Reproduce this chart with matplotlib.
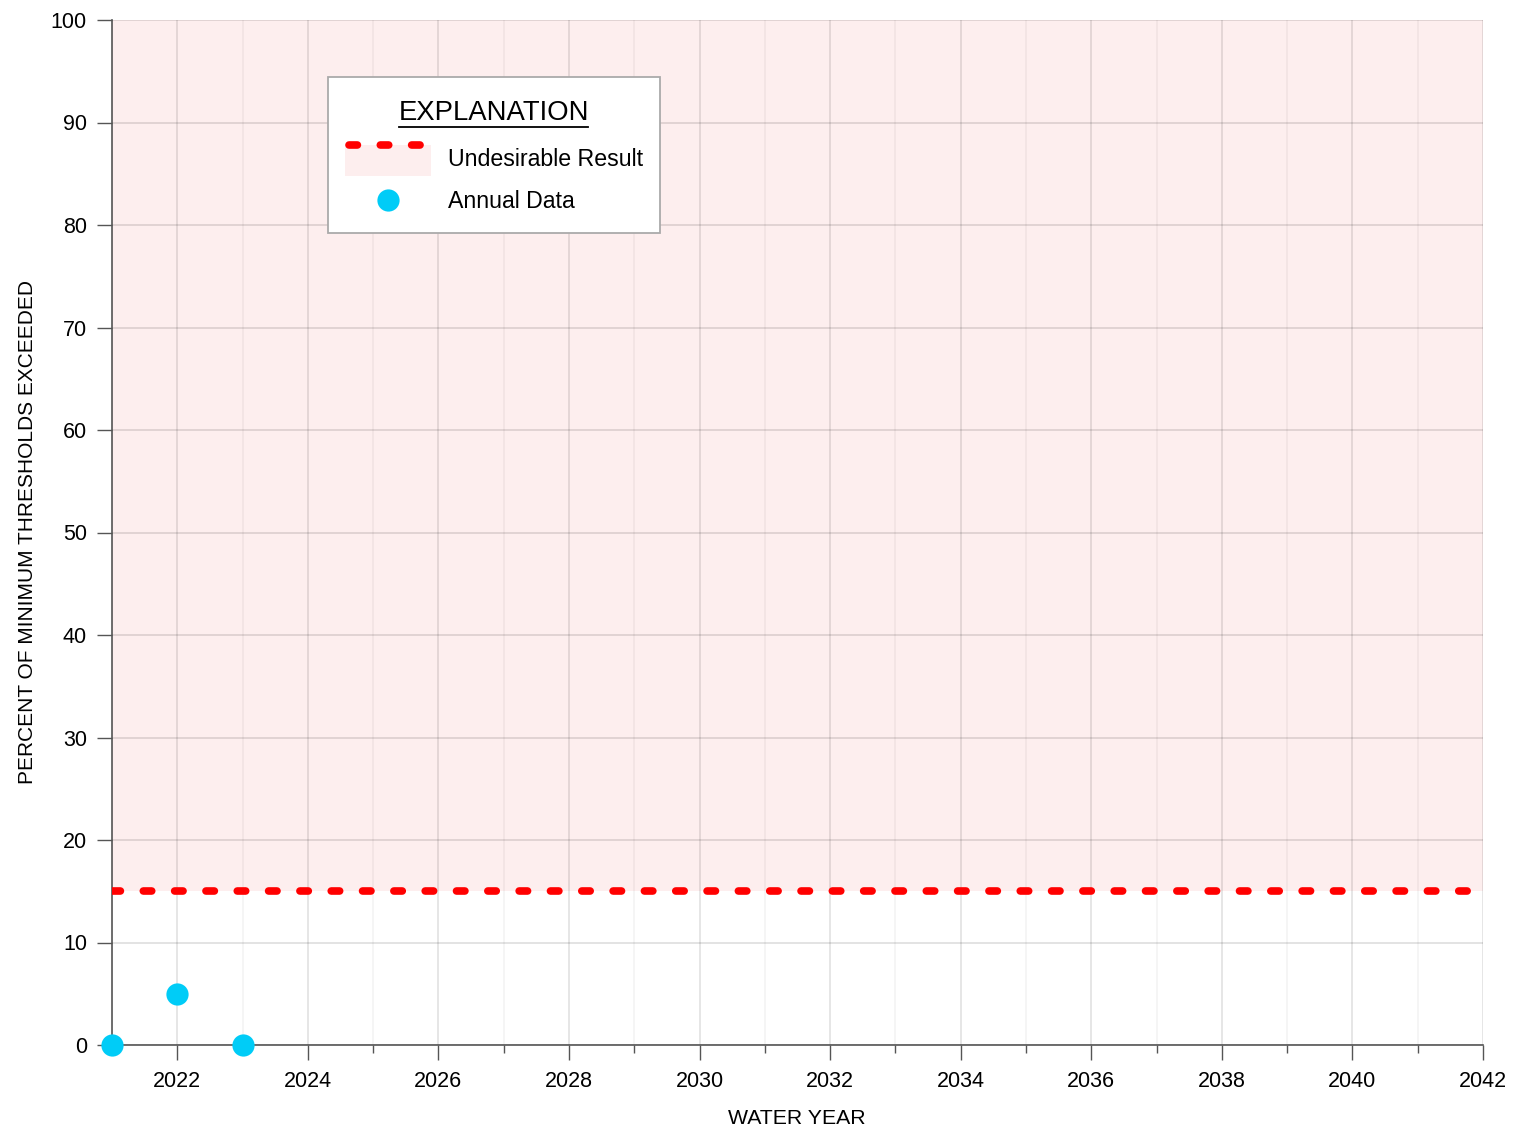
import matplotlib
matplotlib.use("Agg")
import matplotlib.pyplot as plt
from matplotlib.patches import Rectangle
from matplotlib.lines import Line2D
from matplotlib.ticker import MultipleLocator

plt.rcParams['font.family'] = ['Liberation Sans', 'DejaVu Sans']

# ---- data ----
years = [2021, 2022, 2023]
percent_exceeded = [0, 5, 0]
undesirable_threshold = 15
x_range = [2021, 2042]
y_range = [0, 100]
x_major_ticks = list(range(2022, 2043, 2))
y_ticks = list(range(0, 101, 10))

RED = '#ff0000'
CYAN = '#00ccf7'
PINK = '#fdeeee'

fig = plt.figure(figsize=(15.18, 11.34), dpi=100)
ax = fig.add_axes([112/1518, 1 - 1045/1134, (1483-112)/1518, (1045-20)/1134])

ax.set_xlim(*x_range)
ax.set_ylim(*y_range)

# undesirable region shading
ax.axhspan(undesirable_threshold, y_range[1], color=PINK, zorder=0, lw=0)

# grid
ax.set_xticks(x_major_ticks)
ax.xaxis.set_minor_locator(MultipleLocator(1))
ax.set_yticks(y_ticks)
ax.set_axisbelow(True)
ax.grid(which='major', axis='x', color='black', alpha=0.13, lw=1.1)
ax.grid(which='minor', axis='x', color='black', alpha=0.05, lw=1.1)
ax.grid(which='major', axis='y', color='black', alpha=0.14, lw=1.1)

# threshold dotted line
thr, = ax.plot(x_range, [undesirable_threshold]*2, color=RED, lw=5.5,
               solid_capstyle='round', dash_capstyle='round', zorder=3)
thr.set_dashes((1.1, 3.0))

# annual data
ax.plot(years, percent_exceeded, 'o', color=CYAN, ms=16, mec='none',
        zorder=5, clip_on=False)

# spines
for s in ['top', 'right']:
    ax.spines[s].set_visible(False)
for s in ['left', 'bottom']:
    ax.spines[s].set_color('#555555')
    ax.spines[s].set_linewidth(1.2)

ax.tick_params(axis='y', which='major', length=11, width=1.0, color='#555555',
               labelsize=15.5, pad=7)
ax.tick_params(axis='x', which='major', length=11, width=1.0, color='#555555',
               labelsize=15.5, pad=8)
ax.tick_params(axis='x', which='minor', length=6, width=1.0, color='#555555')

ax.set_xlabel('WATER YEAR', fontsize=15.3)
ax.set_ylabel('PERCENT OF MINIMUM THRESHOLDS EXCEEDED', fontsize=15)
ax.xaxis.set_label_coords(0.4996, -0.0624)
ax.yaxis.set_label_coords(-0.055, 0.5)

# ---- legend (explanation box) ----
W, H = 1371.0, 1025.0
def fx(px):
    return (px - 112) / W
def fy(py):
    return (1045 - py) / H

T = ax.transAxes
ax.add_patch(Rectangle((fx(328), fy(233)), fx(660) - fx(328), fy(77) - fy(233),
                       transform=T, facecolor='white', edgecolor='#aaaaaa',
                       lw=1.3, zorder=10))
ax.text(fx(494), fy(113), 'EXPLANATION', transform=T, ha='center', va='center',
        fontsize=19.8, zorder=11)
ax.add_line(Line2D([fx(399), fx(588)], [fy(127), fy(127)], transform=T,
                   color='black', lw=1.3, zorder=11))
ax.add_patch(Rectangle((fx(345), fy(176)), fx(431) - fx(345), fy(145) - fy(176),
                       transform=T, facecolor=PINK, edgecolor='none', zorder=11))
leg_line = Line2D([fx(349), fx(431)], [fy(145), fy(145)], transform=T,
                  color=RED, lw=5.5, dash_capstyle='round', zorder=12)
leg_line.set_dashes((1.1, 3.0))
ax.add_line(leg_line)
ax.add_line(Line2D([fx(388)], [fy(200)], transform=T, marker='o', color=CYAN,
                   ms=16, mec='none', ls='none', zorder=12))
ax.text(fx(448), fy(159), 'Undesirable Result', transform=T, ha='left',
        va='center', fontsize=16.7, zorder=12)
ax.text(fx(448), fy(201), 'Annual Data', transform=T, ha='left',
        va='center', fontsize=16.7, zorder=12)

fig.savefig('out.png', dpi=100)
